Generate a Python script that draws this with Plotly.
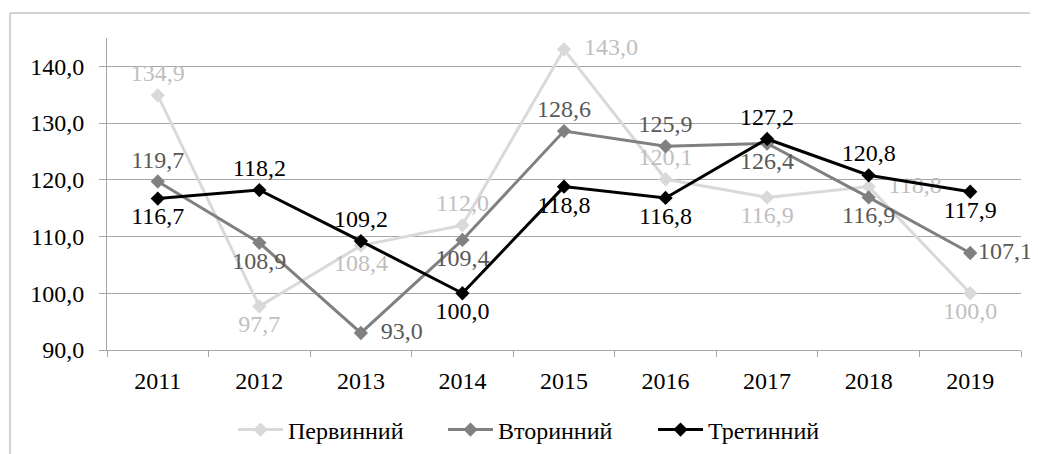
import plotly.graph_objects as go

years = ["2011", "2012", "2013", "2014", "2015", "2016", "2017", "2018", "2019"]
primary = [134.9, 97.7, 108.4, 112.0, 143.0, 120.1, 116.9, 118.8, 100.0]
secondary = [119.7, 108.9, 93.0, 109.4, 128.6, 125.9, 126.4, 116.9, 107.1]
tertiary = [116.7, 118.2, 109.2, 100.0, 118.8, 116.8, 127.2, 120.8, 117.9]
series_names = ["Первинний", "Вторинний", "Третинний"]

pos_primary = ["top center", "bottom center", "bottom center", "top center", "middle right",
               "top center", "bottom center", "middle right", "bottom center"]
pos_secondary = ["top center", "bottom center", "middle right", "bottom center", "top center",
                 "top center", "bottom center", "bottom center", "middle right"]
pos_tertiary = ["bottom center", "top center", "top center", "bottom center", "bottom center",
                "bottom center", "top center", "top center", "bottom center"]
# extra left padding (in spaces) for right-placed labels
pad_primary = [0, 0, 0, 0, 2, 0, 0, 2, 0]
pad_secondary = [0, 0, 2, 0, 0, 0, 0, 0, 0]
pad_tertiary = [0, 0, 0, 0, 0, 0, 0, 0, 0]

FONT = "Liberation Serif"
FS = 24

def templates(pads):
    return [" " * p + "%{y:.1f}" for p in pads]

fig = go.Figure()
specs = [
    (primary, series_names[0], "#D9D9D9", "#BFBFBF", pos_primary, pad_primary),
    (secondary, series_names[1], "#808080", "#595959", pos_secondary, pad_secondary),
    (tertiary, series_names[2], "#000000", "#000000", pos_tertiary, pad_tertiary),
]
for vals, name, col, tcol, pos, pad in specs:
    fig.add_trace(go.Scatter(
        x=years, y=vals, name=name, mode="lines+markers+text",
        line=dict(color=col, width=3),
        marker=dict(symbol="diamond", size=11, color=col),
        textposition=pos, texttemplate=templates(pad),
        textfont=dict(family=FONT, size=FS, color=tcol),
        hoverinfo="skip", cliponaxis=False,
    ))

# page body has an 8px margin; figure is sized/placed to compensate
OFF = 8
W, H = 1038 - OFF, 454 - OFF
L, T = 107 - OFF, 38 - OFF
R = W - (1021 - OFF)
B = H - (350 - OFF)
pw, ph = W - L - R, H - T - B

def px_x(x):
    return (x - OFF - L) / pw

def px_y(y):
    return (H - B - (y - OFF)) / ph

fig.add_shape(type="rect", xref="paper", yref="paper",
              x0=px_x(10), x1=px_x(1060), y0=px_y(480), y1=px_y(13),
              line=dict(color="#A6A6A6", width=1), layer="below")

fig.update_layout(
    width=W, height=H,
    margin=dict(l=L, r=R, t=T, b=B, autoexpand=False),
    paper_bgcolor="white", plot_bgcolor="white",
    separators=", ",
    font=dict(family=FONT, size=FS, color="#000000"),
    showlegend=True,
    legend=dict(orientation="h", x=px_x(233), xanchor="left", y=px_y(430), yanchor="middle",
                font=dict(family=FONT, size=FS, color="#000000"),
                itemwidth=45, tracegroupgap=0, entrywidth=150, entrywidthmode="pixels"),
    xaxis=dict(type="category", range=[-0.5, 8.5], showgrid=False,
               showline=True, linecolor="#A6A6A6", linewidth=1,
               ticks="outside", ticklen=6, tickcolor="#A6A6A6", tickson="boundaries",
               tickfont=dict(family=FONT, size=FS, color="#000000"),
               ticklabelstandoff=9, fixedrange=True),
    yaxis=dict(range=[90, 145], dtick=10, tick0=90, tickformat=".1f",
               showgrid=True, gridcolor="#A6A6A6", gridwidth=1,
               showline=True, linecolor="#A6A6A6", linewidth=1,
               ticks="outside", ticklen=7, tickcolor="#A6A6A6",
               tickfont=dict(family=FONT, size=FS, color="#000000"),
               ticklabelstandoff=10, zeroline=False, fixedrange=True),
)

fig.write_html("out.html")
